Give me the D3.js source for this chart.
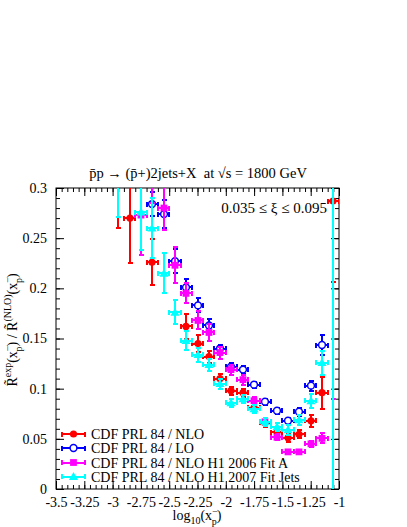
<!DOCTYPE html>
<html>
<head>
<meta charset="utf-8">
<script src="https://cdn.jsdelivr.net/npm/d3@7"></script>
<style>
  body { margin: 0; background: #fff; }
  svg text { font-family: "Liberation Serif", "Times New Roman", serif; fill: #000; }
</style>
</head>
<body>
<div id="container"></div>
<script>
// bin centres in log10(x_p)
const bins = [-2.95, -2.85, -2.75, -2.65, -2.55, -2.45, -2.35, -2.25, -2.15, -2.05,
              -1.95, -1.85, -1.75, -1.65, -1.55, -1.45, -1.35, -1.25, -1.15, -1.05];
const binHalf = 0.05;

// CDF PRL 84 / NLO
const nloVals = [0.315, 0.270, null, 0.226, null, null, 0.162, 0.145, 0.132, 0.110,
                 0.098, 0.096, 0.081, 0.066, 0.0565, 0.051, 0.0545, 0.068, 0.096, 0.287];
const nloErrs = [0.055, 0.045, null, 0.023, null, null, 0.012, 0.008, 0.006, 0.005,
                 0.004, 0.004, 0.004, 0.004, 0.004, 0.004, 0.004, 0.006, 0.016, 0.081];
// CDF PRL 84 / LO
const loVals = [null, null, null, 0.284, 0.274, 0.227, 0.201, 0.183, 0.163, 0.140,
                0.122, 0.119, 0.104, 0.087, 0.078, 0.068, 0.077, 0.103, 0.1435, null];
const loErrs = [null, null, null, 0.012, 0.014, 0.012, 0.008, 0.007, 0.006, 0.004,
                0.004, 0.004, 0.003, 0.003, 0.003, 0.003, 0.004, 0.005, 0.010, null];
// CDF PRL 84 / NLO H1 2006 Fit A
const fitAVals = [null, null, 0.273, 0.315, 0.280, 0.223, 0.195, 0.168, 0.156, 0.136,
                  0.119, 0.109, 0.088, 0.067, 0.0515, 0.037, 0.037, 0.045, 0.0505, 0.35];
const fitAErrs = [null, null, 0.040, 0.030, 0.022, 0.018, 0.010, 0.009, 0.008, 0.006,
                  0.005, 0.005, 0.004, 0.003, 0.003, 0.002, 0.002, 0.003, 0.005, 0.26];
// CDF PRL 84 / NLO H1 2007 Fit Jets
const jetsVals = [0.320, null, 0.276, 0.260, 0.215, 0.176, 0.148, 0.134, 0.124, 0.105,
                  0.086, 0.090, 0.080, 0.067, 0.062, 0.059, 0.069, 0.088, 0.126, 0.45];
const jetsErrs = [0.049, null, 0.038, 0.030, 0.020, 0.012, 0.009, 0.007, 0.006, 0.005,
                  0.004, 0.004, 0.004, 0.004, 0.004, 0.005, 0.005, 0.007, 0.012, 0.50];

const seriesNames = ["CDF PRL 84 / NLO", "CDF PRL 84 / LO",
                     "CDF PRL 84 / NLO H1 2006 Fit A", "CDF PRL 84 / NLO H1 2007 Fit Jets"];
const seriesColors = ["#ff0000", "#0000ff", "#ff00ff", "#00ffff"];
const seriesMarkers = ["circle", "opencircle", "square", "triangle"];

const xTicks = [-3.5, -3.25, -3, -2.75, -2.5, -2.25, -2, -1.75, -1.5, -1.25, -1];
const yTicks = [0, 0.05, 0.1, 0.15, 0.2, 0.25, 0.3];

const width = 407, height = 527;
const frame = { left: 56, right: 339, top: 188, bottom: 489 };
const serif = '"Liberation Serif", "Times New Roman", serif';

const series = [
  [nloVals, nloErrs], [loVals, loErrs], [fitAVals, fitAErrs], [jetsVals, jetsErrs]
].map(([vals, errs], i) => ({
  name: seriesNames[i], color: seriesColors[i], marker: seriesMarkers[i],
  points: bins.map((b, j) => ({ x: b, y: vals[j], e: errs[j] })).filter(p => p.y !== null)
}));

const x = d3.scaleLinear([-3.5, -1], [frame.left, frame.right]);
const y = d3.scaleLinear([0, 0.3], [frame.bottom, frame.top]);

const svg = d3.select('#container')
  .append('svg')
  .attr('width', width)
  .attr('height', height)
  .attr('viewBox', [0, 0, width, height])
  .attr('font-family', serif);

svg.append('rect').attr('width', width).attr('height', height).attr('fill', '#fff');

svg.append('clipPath').attr('id', 'clip')
  .append('rect')
  .attr('x', frame.left).attr('y', frame.top)
  .attr('width', frame.right - frame.left).attr('height', frame.bottom - frame.top);

const fmt = d => String(+d.toFixed(2));
const minorX = d3.range(-3.5, -0.999, 0.05).map(d => +d.toFixed(2));
const minorY = d3.range(0, 0.3001, 0.01).map(d => +d.toFixed(2));

function ticks(axis, pos) {
  const g = svg.append('g').attr('transform', pos).call(axis).attr('font-family', serif);
  g.select('.domain').remove();
  g.selectAll('line').attr('stroke', '#000').attr('stroke-width', 1);
  return g;
}

// bottom
const bx = ticks(d3.axisBottom(x).tickValues(xTicks).tickSize(-8).tickPadding(5).tickFormat(fmt),
  `translate(0,${frame.bottom})`);
bx.selectAll('text').attr('font-size', 14).attr('dy', '0.9em').attr('fill', '#000');
ticks(d3.axisBottom(x).tickValues(minorX).tickSize(-4).tickFormat(''), `translate(0,${frame.bottom})`);
// top
ticks(d3.axisTop(x).tickValues(xTicks).tickSize(-8).tickFormat(''), `translate(0,${frame.top})`);
ticks(d3.axisTop(x).tickValues(minorX).tickSize(-4).tickFormat(''), `translate(0,${frame.top})`);
// left
const ly = ticks(d3.axisLeft(y).tickValues(yTicks).tickSize(-8).tickPadding(9).tickFormat(fmt),
  `translate(${frame.left},0)`);
ly.selectAll('text').attr('font-size', 14).attr('fill', '#000');
ticks(d3.axisLeft(y).tickValues(minorY).tickSize(-4).tickFormat(''), `translate(${frame.left},0)`);
// right
ticks(d3.axisRight(y).tickValues(yTicks).tickSize(-8).tickFormat(''), `translate(${frame.right},0)`);
ticks(d3.axisRight(y).tickValues(minorY).tickSize(-4).tickFormat(''), `translate(${frame.right},0)`);

svg.append('rect')
  .attr('x', frame.left).attr('y', frame.top)
  .attr('width', frame.right - frame.left).attr('height', frame.bottom - frame.top)
  .attr('fill', 'none').attr('stroke', '#000').attr('stroke-width', 1);

// markers
function drawMarker(g, type, color, cx, cy) {
  if (type === 'circle') {
    g.append('circle').attr('cx', cx).attr('cy', cy).attr('r', 3.6).attr('fill', color);
  } else if (type === 'opencircle') {
    g.append('circle').attr('cx', cx).attr('cy', cy).attr('r', 3.4)
      .attr('fill', '#fff').attr('stroke', color).attr('stroke-width', 1.5);
  } else if (type === 'square') {
    g.append('rect').attr('x', cx - 3.4).attr('y', cy - 3.4).attr('width', 6.8).attr('height', 6.8)
      .attr('fill', color);
  } else {
    g.append('path').attr('transform', `translate(${cx},${cy + 0.8})`)
      .attr('d', d3.symbol(d3.symbolTriangle, 36)()).attr('fill', color);
  }
}

function errorBar(g, color, x1, x2, y1, y2, cap, horiz) {
  const line = (a, b, c, d) => g.append('line')
    .attr('x1', a).attr('x2', b).attr('y1', c).attr('y2', d)
    .attr('stroke', color).attr('stroke-width', 2).attr('shape-rendering', 'crispEdges');
  line(x1, x2, y1, y2);
  if (horiz) {
    [x1, x2].forEach(xx => line(xx, xx, y1 - cap, y1 + cap));
  } else {
    [y1, y2].forEach(yy => line(x1 - cap, x1 + cap, yy, yy));
  }
}

const plot = svg.append('g').attr('clip-path', 'url(#clip)');
series.forEach(s => {
  const g = plot.append('g');
  s.points.forEach(p => {
    const cx = Math.round(x(p.x)), cy = y(p.y);
    errorBar(g, s.color, cx, cx, y(p.y + p.e), y(p.y - p.e), 2.5, false);
    errorBar(g, s.color, x(p.x - binHalf), x(p.x + binHalf), cy, cy, 2.5, true);
    drawMarker(g, s.marker, s.color, cx, cy);
  });
});

// legend
const legendY = [434, 448, 462.5, 476.5];
series.forEach((s, i) => {
  const g = svg.append('g');
  const cy = legendY[i];
  errorBar(g, s.color, 62, 85, cy, cy, 2.5, true);
  drawMarker(g, s.marker, s.color, 73.5, cy);
  g.append('text').attr('x', 91).attr('y', cy + 5).attr('font-size', 14).text(s.name);
});

// title
svg.append('text')
  .attr('x', 198).attr('y', 178).attr('text-anchor', 'middle').attr('font-size', 14.5)
  .text('p\u0304p \u2192 (p\u0304+)2jets+X \u00a0at \u221As = 1800 GeV');

// annotation
svg.append('text')
  .attr('x', 327).attr('y', 213).attr('text-anchor', 'end').attr('font-size', 15)
  .text('0.035 \u2264 \u03BE \u2264 0.095');

// x title
const xt = svg.append('text')
  .attr('x', 197).attr('y', 520).attr('text-anchor', 'middle').attr('font-size', 14);
xt.append('tspan').text('log');
xt.append('tspan').attr('font-size', 10).attr('dy', 4).text('10');
xt.append('tspan').attr('dy', -4).text('(x');
xt.append('tspan').attr('font-size', 10).attr('dy', -5).text('\u2212');
xt.append('tspan').attr('font-size', 10).attr('dx', -6).attr('dy', 10).text('p');
xt.append('tspan').attr('dy', -5).text(')');

// y title
const yt = svg.append('text')
  .attr('transform', 'translate(17,330) rotate(-90)')
  .attr('text-anchor', 'middle').attr('font-size', 14);
yt.append('tspan').text('R\u0303');
yt.append('tspan').attr('font-size', 10).attr('dy', -6).text('exp');
yt.append('tspan').attr('dy', 6).text('(x');
yt.append('tspan').attr('font-size', 10).attr('dy', -6).text('\u2212');
yt.append('tspan').attr('font-size', 10).attr('dx', -6).attr('dy', 11).text('p');
yt.append('tspan').attr('dy', -5).text(') / R\u0303');
yt.append('tspan').attr('font-size', 10).attr('dy', -6).text('(NLO)');
yt.append('tspan').attr('dy', 6).text('(x');
yt.append('tspan').attr('font-size', 10).attr('dy', -6).text('\u2212');
yt.append('tspan').attr('font-size', 10).attr('dx', -6).attr('dy', 11).text('p');
yt.append('tspan').attr('dy', -5).text(')');
</script>
</body>
</html>
